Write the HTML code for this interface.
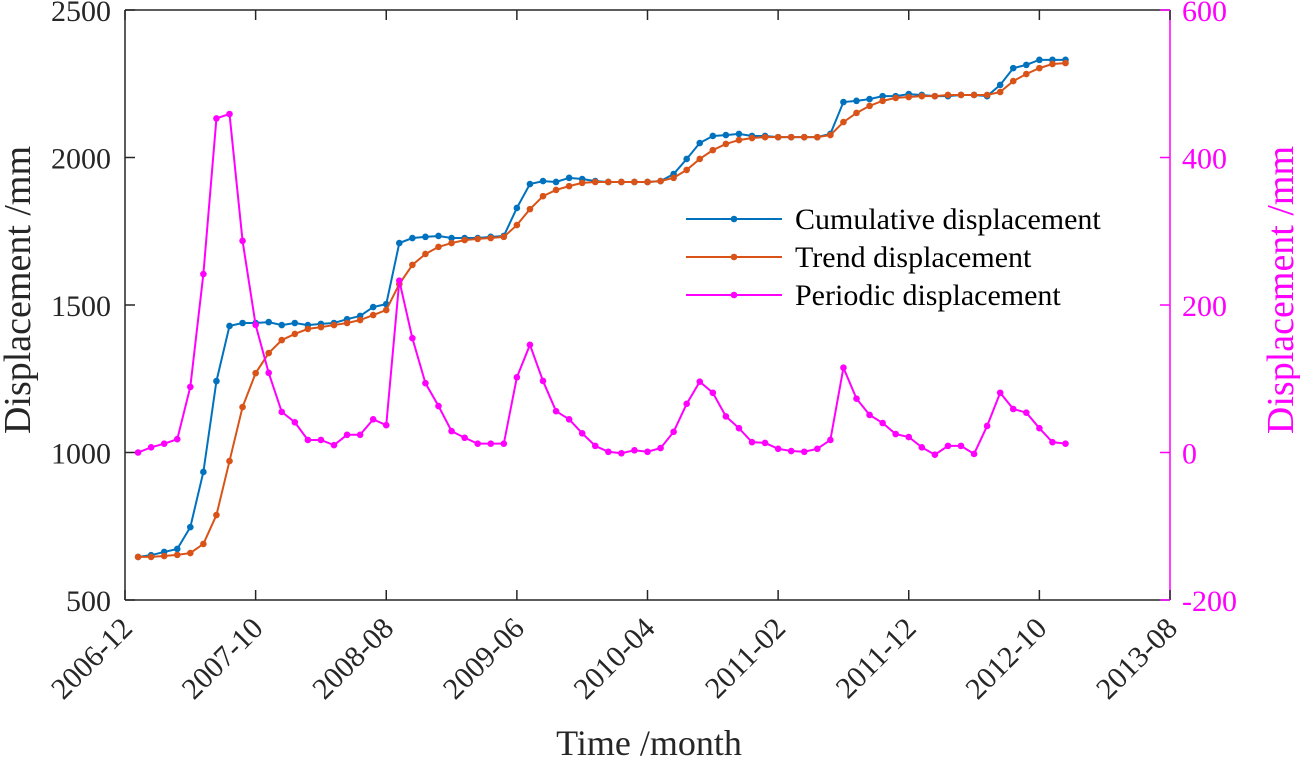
<!DOCTYPE html>
<html><head><meta charset="utf-8"><style>
html,body{margin:0;padding:0;background:#fff;}
svg{display:block;font-family:"Liberation Serif",serif;}
</style></head><body>
<svg id="chart" width="1300" height="758"></svg>
<script>
const xTickLabels=["2006-12","2007-10","2008-08","2009-06","2010-04","2011-02","2011-12","2012-10","2013-08"];
const leftTicks=[500,1000,1500,2000,2500];
const rightTicks=[-200,0,200,400,600];
const cumulative=[646,652,663,673,747,934,1242,1429,1439,1439,1442,1432,1439,1432,1436,1439,1452,1463,1493,1503,1710,1727,1731,1734,1727,1727,1727,1731,1734,1829,1910,1920,1917,1931,1927,1920,1917,1917,1917,1917,1920,1944,1995,2049,2073,2076,2080,2073,2073,2069,2069,2069,2069,2080,2188,2192,2198,2208,2208,2215,2212,2208,2208,2212,2212,2208,2246,2303,2314,2331,2331,2331];
const trend=[646,646,649,653,659,690,788,971,1154,1269,1337,1381,1402,1419,1425,1432,1439,1449,1466,1483,1571,1636,1673,1697,1710,1720,1724,1727,1731,1771,1825,1869,1890,1903,1914,1917,1917,1917,1917,1917,1920,1931,1958,1995,2025,2046,2059,2066,2069,2069,2069,2069,2069,2076,2120,2151,2175,2192,2202,2205,2208,2208,2212,2212,2212,2212,2222,2259,2283,2303,2317,2320];
const periodic=[0,7,12,18,89,242,453,459,287,173,108,55,41,17,17,10,24,24,45,37,233,155,94,63,29,20,12,12,12,102,146,97,56,45,26,9,1,-1,3,1,6,28,66,96,81,49,33,14,13,5,2,1,5,17,115,73,51,40,25,21,7,-3,9,9,-2,36,81,59,54,33,14,12];

const NS="http://www.w3.org/2000/svg";
const svg=document.getElementById('chart');
const L=125,R=1170,T=10,B=600;
const xs=m=>L+(R-L)*m/80;
const yl=v=>B-(v-500)*(B-T)/2000;
const yr=v=>B-(v+200)*(B-T)/800;
function mk(tag,attrs,parent){const e=document.createElementNS(NS,tag);for(const k in attrs)e.setAttribute(k,attrs[k]);(parent||svg).appendChild(e);return e;}

const ax=mk('g',{});


mk('line',{x1:L,y1:B,x2:R,y2:B,stroke:'#262626','stroke-width':1.5},ax);
mk('line',{x1:L,y1:T,x2:R,y2:T,stroke:'#262626','stroke-width':1.5},ax);
mk('line',{x1:L,y1:T,x2:L,y2:B,stroke:'#262626','stroke-width':1.5},ax);
mk('line',{x1:R,y1:T,x2:R,y2:B,stroke:'#FF00FF','stroke-width':1.5},ax);

xTickLabels.forEach((t,i)=>{
  const x=xs(i*10);
  mk('line',{x1:x,y1:B,x2:x,y2:B-10,stroke:'#262626','stroke-width':1.5},ax);
  mk('line',{x1:x,y1:T,x2:x,y2:T+10,stroke:'#262626','stroke-width':1.5},ax);
  const tx=mk('text',{x:x+9,y:B+30,'font-size':30,fill:'#262626','text-anchor':'end',transform:`rotate(-45 ${x+9} ${B+30})`},ax);
  
  
  tx.textContent=t;
});
leftTicks.forEach(v=>{
  const y=yl(v);
  mk('line',{x1:L,y1:y,x2:L+10,y2:y,stroke:'#262626','stroke-width':1.5},ax);
  const tx=mk('text',{x:L-14,y:y+11,'font-size':30,fill:'#262626','text-anchor':'end'},ax);
  
  
  tx.textContent=v;
});
rightTicks.forEach(v=>{
  const y=yr(v);
  mk('line',{x1:R,y1:y,x2:R-10,y2:y,stroke:'#FF00FF','stroke-width':1.5},ax);
  const tx=mk('text',{x:R+12,y:y+11,'font-size':30,fill:'#FF00FF','text-anchor':'start'},ax);
  
  
  tx.textContent=v;
});
let t1=mk('text',{x:649,y:755,'font-size':36,fill:'#262626','text-anchor':'middle'});


t1.textContent='Time /month';
let t2=mk('text',{x:30,y:290,'font-size':38,fill:'#262626','text-anchor':'middle',transform:'rotate(-90 30 290)'});


t2.textContent='Displacement /mm';
let t3=mk('text',{x:1293,y:290,'font-size':38,fill:'#FF00FF','text-anchor':'middle',transform:'rotate(-90 1293 290)'});


t3.textContent='Displacement /mm';

function series(data,yf,color,name){
  const g=mk('g',{});
  
  
  const pts=data.map((v,i)=>xs(i+1)+','+yf(v)).join(' ');
  mk('polyline',{points:pts,fill:'none',stroke:color,'stroke-width':2},g);
  data.forEach((v,i)=>{
    const c=mk('circle',{cx:xs(i+1),cy:yf(v),r:3.3,fill:color},g);
    
    
  });
}
series(cumulative,yl,'#0072BD','cumulative-series');
series(trend,yl,'#D95319','trend-series');
series(periodic,yr,'#FF00FF','periodic-series');

const legend=[['Cumulative displacement','#0072BD'],['Trend displacement','#D95319'],['Periodic displacement','#FF00FF']];
legend.forEach((l,i)=>{
  const y=219+i*38;
  const g=mk('g',{});
  
  
  mk('line',{x1:686,y1:y,x2:782,y2:y,stroke:l[1],'stroke-width':2},g);
  mk('circle',{cx:734,cy:y,r:3.3,fill:l[1]},g);
  const tx=mk('text',{x:795,y:y+10,'font-size':30,fill:'#000'},g);
  tx.textContent=l[0];
});
</script>
</body></html>
